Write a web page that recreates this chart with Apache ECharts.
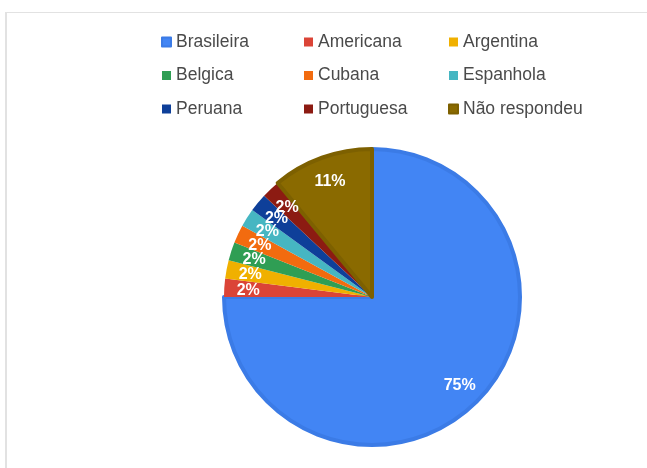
<!DOCTYPE html>
<html>
<head>
<meta charset="utf-8">
<script src="https://cdn.jsdelivr.net/npm/echarts@6/dist/echarts.min.js"></script>
<style>
  html, body { margin: 0; padding: 0; background: #fff; }
  #chart { width: 647px; height: 468px; position: relative; }
  .frame {
    position: absolute; left: 5px; top: 12px; right: 0; bottom: 0;
    border-left: 2px solid #e2e2e2; border-top: 1px solid #e2e2e2;
    pointer-events: none;
  }
</style>
</head>
<body>
<div id="chart"></div>
<div class="frame"></div>
<script>
// categorias e percentuais
const categories = ['Brasileira', 'Americana', 'Argentina', 'Belgica', 'Cubana', 'Espanhola', 'Peruana', 'Portuguesa', 'Não respondeu']
const values = [75, 2, 2, 2, 2, 2, 2, 2, 11]

// paleta
const colors = ['#4285f4', '#db4437', '#f0b000', '#2f9e54', '#f26b0f', '#46b6c2', '#0e3f99', '#8c1b12', '#8a6a00']
const borderColors = ['#3b7be6', '#c83a2e', '#dba000', '#288a48', '#db5f0a', '#3ca2ad', '#0b3585', '#76160f', '#7d6000']

const chart = echarts.init(document.getElementById('chart'))

const pieData = categories.map((name, i) => ({
  name,
  value: values[i],
  itemStyle: { color: colors[i], borderColor: borderColors[i], borderWidth: i === 0 || i === 8 ? 4 : 0 }
}))

const labelData = categories.map((name, i) => ({ name, value: values[i] }))

const legendBase = {
  orient: 'vertical',
  top: 32,
  padding: 0,
  itemWidth: 9,
  itemHeight: 9,
  itemGap: 13.5,
  icon: 'rect',
  selectedMode: false,
  textStyle: { fontFamily: 'Liberation Sans, Arial', fontSize: 17.5, color: '#4a4a4a', lineHeight: 20 }
}

chart.setOption({
  animation: false,
  color: colors,
  legend: [
    { ...legendBase, left: 161, data: [categories[0], categories[3], categories[6]] },
    { ...legendBase, left: 304, data: [categories[1], categories[4], categories[7]] },
    { ...legendBase, left: 448, data: [categories[2], categories[5], categories[8]] }
  ],
  series: [
    {
      name: 'pie',
      type: 'pie',
      center: [372, 297],
      radius: 148,
      startAngle: 90,
      clockwise: true,
      label: { show: false },
      labelLine: { show: false },
      emphasis: { disabled: true },
      data: pieData
    },
    {
      name: 'labels',
      type: 'pie',
      center: [372, 298],
      radius: [94, 148],
      startAngle: 90,
      clockwise: true,
      silent: true,
      avoidLabelOverlap: false,
      labelLayout: { hideOverlap: false },
      itemStyle: { color: 'rgba(0,0,0,0)', borderWidth: 0 },
      label: {
        show: true,
        position: 'inside',
        formatter: '{c}%',
        color: '#fff',
        fontFamily: 'Liberation Sans, Arial',
        fontSize: 16,
        fontWeight: 'bold'
      },
      labelLine: { show: false },
      emphasis: { disabled: true },
      data: labelData
    }
  ]
})
</script>
</body>
</html>
